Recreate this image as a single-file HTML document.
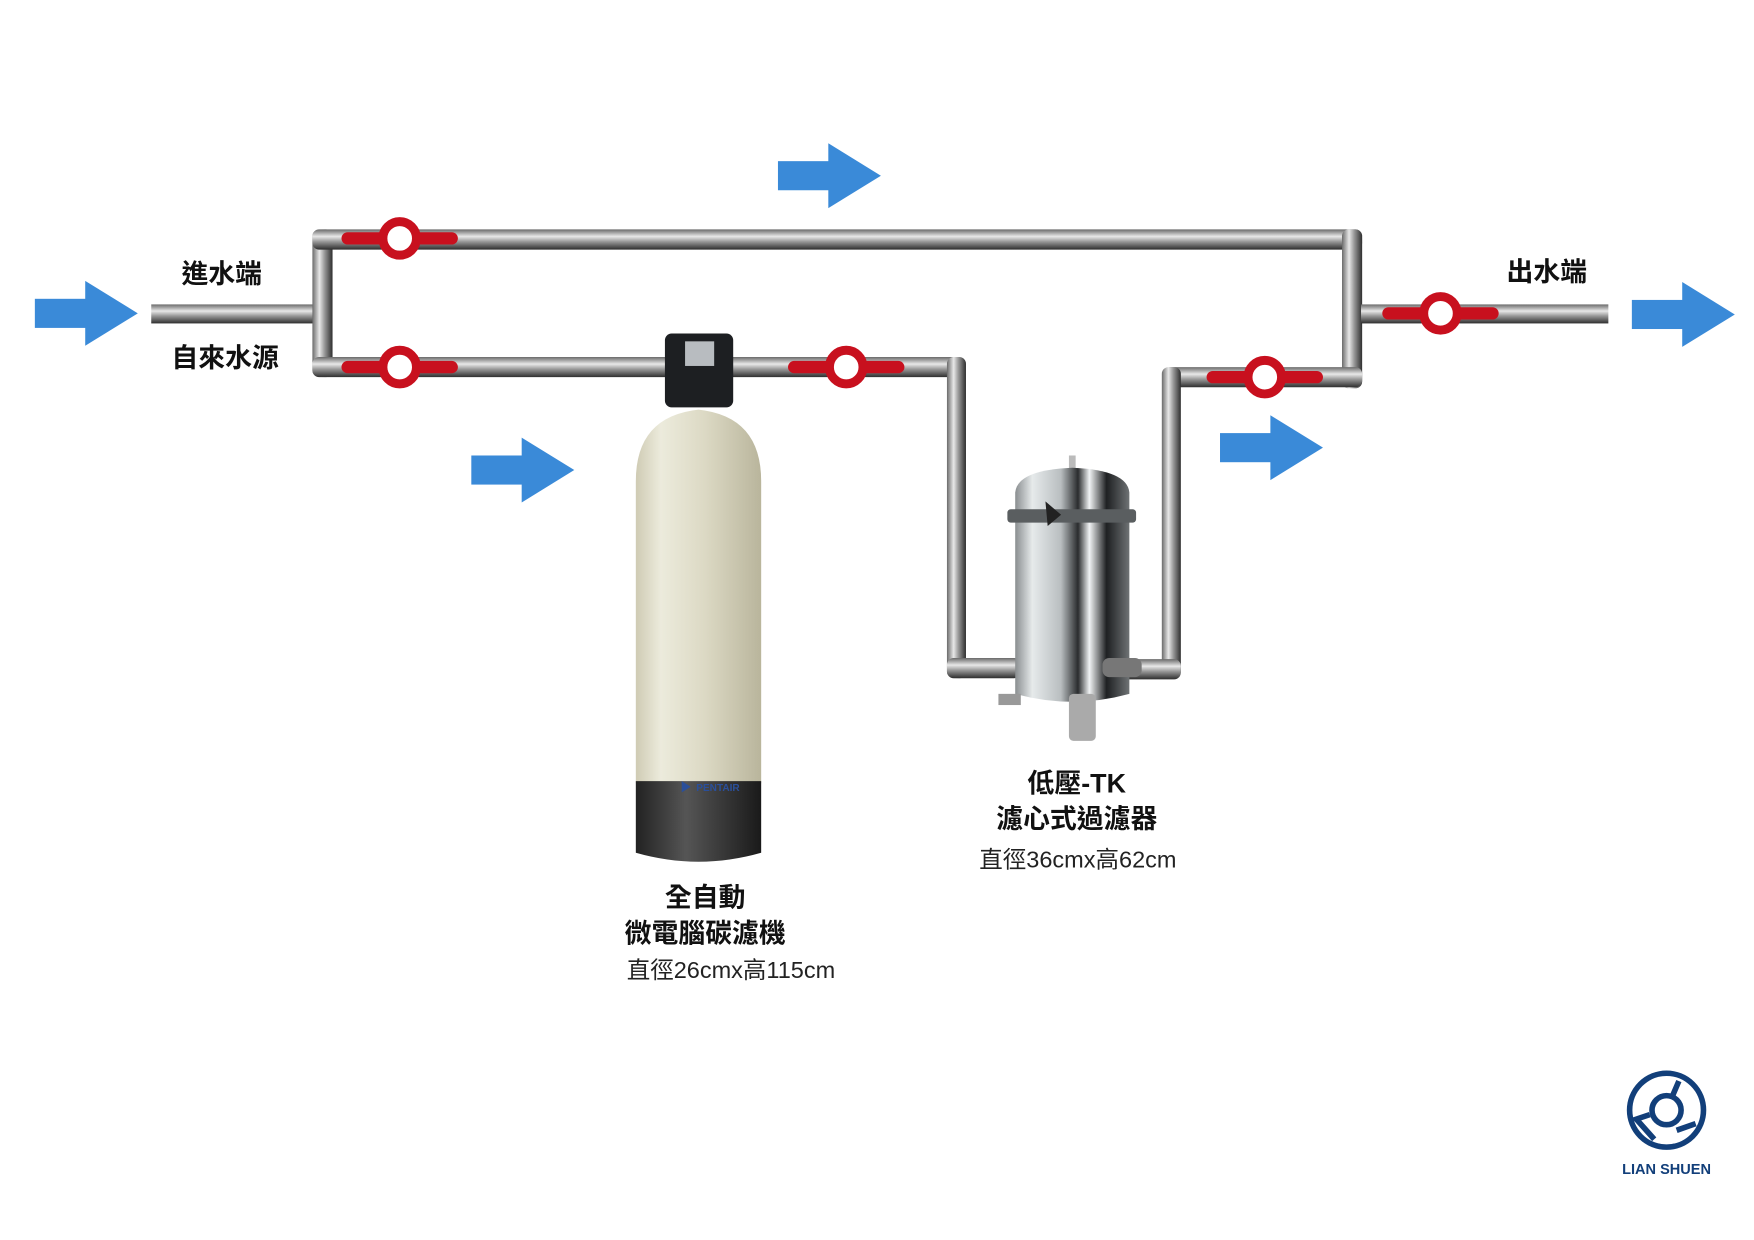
<!DOCTYPE html>
<html><head><meta charset="utf-8"><style>
html,body{margin:0;padding:0;background:#fff;}
svg{display:block;}
text{font-family:"Liberation Sans","Noto Sans CJK TC",sans-serif;}
</style></head><body>
<svg width="1754" height="1240" viewBox="0 0 1567 1108" xmlns="http://www.w3.org/2000/svg">
<defs>
<linearGradient id="ph" x1="0" y1="0" x2="0" y2="1">
<stop offset="0" stop-color="#6a6a6a"/><stop offset="0.35" stop-color="#e8e8e8"/><stop offset="0.6" stop-color="#9a9a9a"/><stop offset="1" stop-color="#2e2e2e"/></linearGradient>
<linearGradient id="pv" x1="0" y1="0" x2="1" y2="0">
<stop offset="0" stop-color="#6a6a6a"/><stop offset="0.35" stop-color="#e8e8e8"/><stop offset="0.6" stop-color="#9a9a9a"/><stop offset="1" stop-color="#2e2e2e"/></linearGradient>
<linearGradient id="tank" x1="0" y1="0" x2="1" y2="0">
<stop offset="0" stop-color="#cfcbb4"/><stop offset="0.2" stop-color="#ecebdc"/><stop offset="0.55" stop-color="#dcd9c4"/><stop offset="1" stop-color="#b9b59c"/></linearGradient>
<linearGradient id="steel" x1="0" y1="0" x2="1" y2="0">
<stop offset="0" stop-color="#8a8e90"/><stop offset="0.15" stop-color="#e6eaeb"/><stop offset="0.4" stop-color="#b9bec0"/><stop offset="0.55" stop-color="#2a2c2e"/><stop offset="0.65" stop-color="#f2f4f5"/><stop offset="0.8" stop-color="#1e2022"/><stop offset="1" stop-color="#6e7274"/></linearGradient>
<linearGradient id="base" x1="0" y1="0" x2="1" y2="0">
<stop offset="0" stop-color="#222"/><stop offset="0.4" stop-color="#555"/><stop offset="1" stop-color="#1a1a1a"/></linearGradient>
<g id="arr"><rect x="0" y="-13" width="47" height="26" fill="#3a8ad8"/><polygon points="45,-29 92,0 45,29" fill="#3a8ad8"/></g>
<g id="valve"><rect x="-52" y="-5.5" width="104" height="11" rx="5.5" fill="#c8101e"/><circle r="15" fill="#fff" stroke="#c8101e" stroke-width="8"/></g>
</defs>

<!-- pipes -->
<rect x="135" y="272" width="145" height="17" fill="url(#ph)"/>
<rect x="279" y="205" width="18" height="132" rx="6" fill="url(#pv)"/>
<rect x="279" y="205" width="938" height="18" rx="6" fill="url(#ph)"/>
<rect x="1199" y="205" width="18" height="142" rx="6" fill="url(#pv)"/>
<rect x="1216" y="272" width="221" height="17" fill="url(#ph)"/>
<rect x="279" y="319" width="583" height="18" rx="6" fill="url(#ph)"/>
<rect x="846" y="319" width="17" height="287" rx="6" fill="url(#pv)"/>
<rect x="846" y="588" width="66" height="18" rx="6" fill="url(#ph)"/>
<rect x="1040" y="328" width="177" height="18" rx="6" fill="url(#ph)"/>
<rect x="1038" y="328" width="17" height="278" rx="6" fill="url(#pv)"/>
<rect x="1000" y="589" width="55" height="18" rx="6" fill="url(#ph)"/>

<!-- valves -->
<use href="#valve" x="357" y="213"/>
<use href="#valve" x="357" y="328"/>
<use href="#valve" x="756" y="328"/>
<use href="#valve" x="1130" y="337"/>
<use href="#valve" x="1287" y="280"/>

<!-- arrows -->
<use href="#arr" x="31" y="280"/>
<use href="#arr" x="695" y="157"/>
<use href="#arr" x="421" y="420"/>
<use href="#arr" x="1090" y="400"/>
<use href="#arr" x="1458" y="281"/>

<!-- softener tank -->
<path d="M568,430 Q568,372 624,366 Q680,372 680,430 L680,700 L568,700 Z" fill="url(#tank)"/>
<path d="M568,698 L680,698 L680,762 Q624,778 568,762 Z" fill="url(#base)"/>
<text x="622" y="707" font-size="9" font-weight="bold" fill="#2a4f9a">PENTAIR</text>
<polygon points="609,698 617,703 609,708" fill="#2a4f9a"/>
<rect x="594" y="298" width="61" height="66" rx="6" fill="#1d1f22"/>
<rect x="612" y="305" width="26" height="22" fill="#b8bcc0"/>

<!-- cartridge filter -->
<rect x="955" y="407" width="6" height="14" fill="#bbb"/>
<path d="M907,440 Q909,420 958,418 Q1007,420 1009,440 L1009,620 Q958,634 907,620 Z" fill="url(#steel)"/>
<rect x="900" y="455" width="115" height="12" rx="3" fill="#5a5e60"/>
<polygon points="934,448 948,460 936,470" fill="#222"/>
<rect x="985" y="588" width="35" height="17" rx="6" fill="#777"/>
<rect x="892" y="620" width="20" height="10" fill="#999"/>
<rect x="955" y="620" width="24" height="42" rx="4" fill="#aaa"/>

<!-- labels -->
<g font-weight="bold" font-size="24" fill="#111" text-anchor="middle">
<text x="198" y="253">進水端</text>
<text x="201" y="328">自來水源</text>
<text x="1382" y="251">出水端</text>
<text x="962" y="708">低壓-TK</text>
<text x="962" y="740">濾心式過濾器</text>
<text x="630" y="810">全自動</text>
<text x="630" y="842">微電腦碳濾機</text>
</g>
<g font-size="21" fill="#222" text-anchor="middle">
<text x="963" y="775">直徑36cmx高62cm</text>
<text x="653" y="874">直徑26cmx高115cm</text>
</g>

<!-- logo -->
<g fill="none" stroke="#123f7a" stroke-width="5">
<circle cx="1489" cy="992" r="33"/>
<circle cx="1489" cy="992" r="13"/>
<path d="M1478,1018 L1462,1000 L1474,996 M1500,966 L1494,980 M1515,1004 L1498,1010"/>
</g>
<text x="1489" y="1049" font-size="13" font-weight="bold" fill="#123f7a" text-anchor="middle">LIAN SHUEN</text>
</svg>
</body></html>
